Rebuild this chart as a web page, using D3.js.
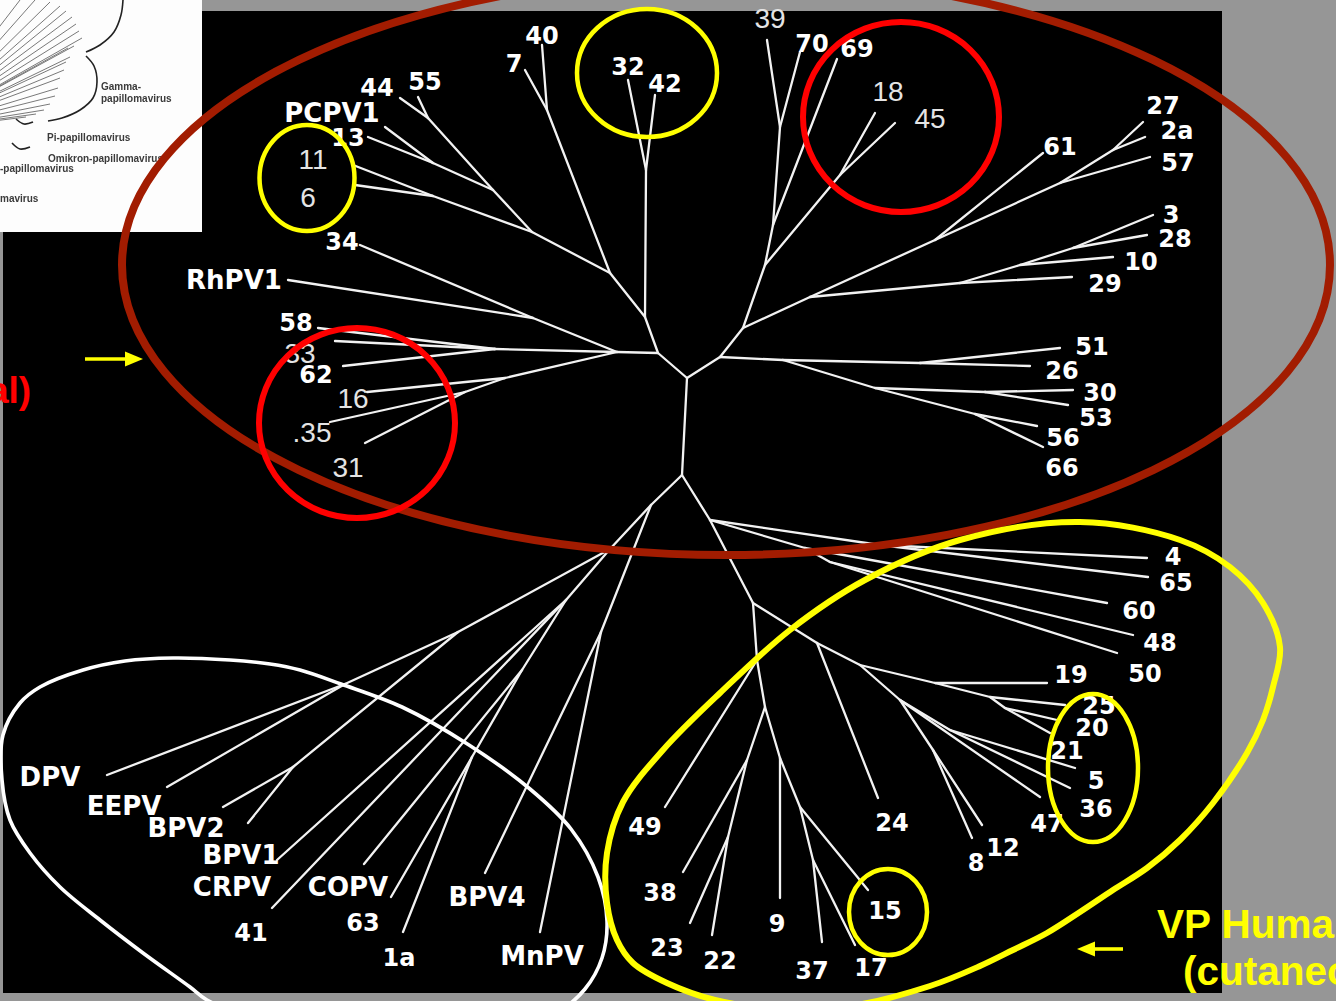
<!DOCTYPE html>
<html>
<head>
<meta charset="utf-8">
<title>Papillomavirus phylogeny</title>
<script src="https://cdn.jsdelivr.net/npm/d3@7/dist/d3.min.js"></script>
<style>
  html, body { margin: 0; padding: 0; background: #969696; overflow: hidden; }
  svg { display: block; }
</style>
</head>
<body>
<svg id="fig" width="1336" height="1001"></svg>
<script>
// Layout plane of the figure: 1 unit = 10 px (x: 0..133.6, y: 0..100.1, y grows downward).

// Slide panel and the reference-figure inset [x0, y0, x1, y1]
const panel = [0.3, 1.1, 122.2, 99.3];
const insetBox = [0, 0, 20.2, 23.2];

// Unrooted papillomavirus tree, one row per node: [node, parent, x, y]
const trunk = [
  ["u0", null, 68.7, 37.8],
  ["l0", "u0", 68.2, 47.5]
];

const upperLeft = [
  ["A", "u0", 65.8, 35.3],
  ["F", "A", 61.7, 35.2],
  ["RJ", "F", 53.3, 31.8],
  ["34", "RJ", 36.0, 24.5],
  ["RhPV1", "RJ", 28.8, 28.0],
  ["F1", "F", 49.5, 34.9],
  ["58", "F1", 31.8, 32.8],
  ["33", "F1", 33.5, 34.1],
  ["62", "F1", 34.3, 36.6],
  ["G2", "F", 50.5, 37.8],
  ["16", "G2", 36.7, 39.2],
  ["G3", "G2", 46.5, 39.2],
  ["35", "G3", 33.0, 42.2],
  ["31", "G3", 36.5, 44.3],
  ["C", "A", 64.5, 31.7],
  ["K32", "C", 64.6, 17.0],
  ["32", "K32", 62.8, 8.0],
  ["42", "K32", 65.5, 9.5],
  ["D", "C", 61.0, 27.3],
  ["K7", "D", 54.7, 11.0],
  ["7", "K7", 52.5, 7.0],
  ["40", "K7", 54.2, 4.5],
  ["E", "D", 53.2, 23.2],
  ["E1", "E", 49.3, 19.0],
  ["K44", "E1", 42.8, 11.8],
  ["44", "K44", 40.0, 9.8],
  ["55", "K44", 41.8, 9.7],
  ["K13", "E1", 43.3, 16.3],
  ["PCPV1", "K13", 38.5, 12.7],
  ["13", "K13", 36.8, 13.7],
  ["E2", "E", 43.3, 19.6],
  ["11", "E2", 35.3, 16.5],
  ["6", "E2", 35.5, 18.5]
];

const upperRight = [
  ["B", "u0", 72.0, 35.7],
  ["B2", "B", 74.3, 32.8],
  ["V1", "B2", 76.5, 26.5],
  ["V2", "V1", 77.3, 22.5],
  ["V3", "V2", 78.0, 12.7],
  ["39", "V3", 76.7, 4.0],
  ["70", "V3", 80.0, 5.2],
  ["69", "V2", 83.7, 5.9],
  ["V4", "V1", 84.0, 17.5],
  ["18", "V4", 87.5, 11.3],
  ["45", "V4", 89.5, 12.3],
  ["H", "B2", 81.0, 29.7],
  ["I", "H", 93.5, 24.0],
  ["61", "I", 104.3, 15.3],
  ["I2", "I", 106.0, 18.3],
  ["57", "I2", 115.0, 15.7],
  ["I3", "I2", 111.3, 15.0],
  ["27", "I3", 114.3, 12.2],
  ["2a", "I3", 114.5, 13.7],
  ["J", "H", 96.0, 28.3],
  ["29", "J", 107.2, 27.7],
  ["J2", "J", 102.0, 26.5],
  ["10", "J2", 111.3, 25.7],
  ["J3", "J2", 107.3, 24.8],
  ["3", "J3", 115.3, 21.5],
  ["28", "J3", 114.7, 23.5]
];

const midRight = [
  ["M", "B", 78.3, 36.0],
  ["N", "M", 92.0, 36.3],
  ["51", "N", 106.0, 34.8],
  ["26", "N", 103.0, 36.6],
  ["O", "M", 87.5, 38.8],
  ["O1", "O", 98.5, 39.2],
  ["30", "O1", 107.3, 39.0],
  ["53", "O1", 106.8, 40.5],
  ["O2", "O", 97.5, 41.4],
  ["56", "O2", 103.7, 42.6],
  ["66", "O2", 104.3, 44.7]
];

const lowerLeft = [
  ["LR1", "l0", 65.1, 50.5],
  ["LA", "LR1", 61.0, 54.9],
  ["LB", "LA", 45.8, 63.2],
  ["LB1", "LB", 34.5, 68.4],
  ["DPV", "LB1", 10.7, 77.5],
  ["EEPV", "LB1", 16.7, 78.7],
  ["LB2", "LB", 29.3, 76.7],
  ["BPV2", "LB2", 22.3, 80.7],
  ["BPV1", "LB2", 24.8, 82.3],
  ["LC", "LA", 56.6, 60.0],
  ["CRPV", "LC", 27.7, 86.0],
  ["41", "LC", 27.2, 90.8],
  ["LD", "LC", 52.2, 67.0],
  ["COPV", "LD", 36.4, 86.4],
  ["LD1", "LD", 47.2, 75.7],
  ["63", "LD1", 39.1, 89.7],
  ["1a", "LD1", 40.3, 93.2],
  ["LE", "LR1", 60.1, 63.2],
  ["BPV4", "LE", 48.5, 87.3],
  ["MnPV", "LE", 54.0, 93.2]
];

const lowerRight = [
  ["Q0", "l0", 71.0, 52.0],
  ["X1", "Q0", 88.0, 54.5],
  ["4", "X1", 114.7, 55.8],
  ["65", "X1", 114.8, 57.7],
  ["X2", "Q0", 80.5, 54.8],
  ["60", "X2", 110.7, 60.3],
  ["X3", "X2", 83.0, 56.2],
  ["48", "X3", 113.3, 63.5],
  ["50", "X3", 111.7, 65.3],
  ["P", "Q0", 75.3, 60.3],
  ["Qn", "P", 81.7, 64.3],
  ["24", "Qn", 87.8, 79.8],
  ["S", "Qn", 86.0, 66.5],
  ["S1", "S", 93.5, 68.3],
  ["19", "S1", 104.7, 68.3],
  ["S1a", "S1", 99.0, 69.7],
  ["25", "S1a", 106.5, 70.5],
  ["S1b", "S1a", 100.5, 70.8],
  ["20", "S1b", 105.7, 72.0],
  ["21", "S1b", 105.0, 73.3],
  ["S2", "S", 90.0, 70.0],
  ["S3", "S2", 95.0, 73.0],
  ["5", "S3", 107.5, 76.8],
  ["36", "S3", 107.0, 78.8],
  ["47", "S2", 104.0, 79.7],
  ["S4", "S2", 93.3, 75.0],
  ["8", "S4", 97.2, 83.8],
  ["12", "S4", 98.2, 82.5],
  ["P2", "P", 75.7, 66.0],
  ["49", "P2", 66.5, 80.7],
  ["R", "P2", 76.5, 70.7],
  ["Vn", "R", 74.7, 76.0],
  ["38", "Vn", 68.3, 87.2],
  ["W", "Vn", 72.8, 83.7],
  ["23", "W", 69.0, 92.3],
  ["22", "W", 71.2, 93.5],
  ["T9", "R", 78.0, 75.8],
  ["9", "T9", 78.0, 89.8],
  ["T", "T9", 80.0, 80.7],
  ["15", "T", 86.8, 89.0],
  ["U", "T", 81.3, 86.0],
  ["37", "U", 82.2, 94.2],
  ["17", "U", 85.5, 94.5]
];

// Tip names as printed on the tree: [text, centre x, centre y]
const tipLabels = [
  ["44", 37.7, 8.7], ["55", 42.5, 8.1], ["PCPV1", 33.2, 11.3], ["13", 34.8, 13.7],
  ["34", 34.2, 24.1], ["RhPV1", 23.4, 28.0], ["58", 29.6, 32.2], ["62", 31.6, 37.4],
  ["40", 54.2, 3.5], ["7", 51.4, 6.3], ["32", 62.8, 6.6], ["42", 66.5, 8.3],
  ["70", 81.2, 4.3], ["69", 85.7, 4.8],
  ["27", 116.3, 10.5], ["2a", 117.7, 13.0], ["57", 117.8, 16.2], ["61", 106.0, 14.6],
  ["3", 117.1, 21.4], ["28", 117.5, 23.8], ["10", 114.1, 26.1], ["29", 110.5, 28.3],
  ["51", 109.2, 34.6], ["26", 106.2, 37.0], ["30", 110.0, 39.2], ["53", 109.6, 41.7],
  ["56", 106.3, 43.7], ["66", 106.2, 46.7],
  ["4", 117.3, 55.6], ["65", 117.6, 58.2], ["60", 113.9, 61.0], ["48", 116.0, 64.2],
  ["50", 114.5, 67.3], ["19", 107.1, 67.4], ["25", 109.9, 70.5], ["20", 109.2, 72.7],
  ["21", 106.7, 75.0], ["5", 109.6, 78.0], ["36", 109.6, 80.8], ["47", 104.7, 82.3],
  ["12", 100.3, 84.7], ["8", 97.6, 86.2], ["24", 89.2, 82.2],
  ["49", 64.5, 82.6], ["38", 66.0, 89.2], ["23", 66.7, 94.7], ["22", 72.0, 96.0],
  ["9", 77.7, 92.3], ["37", 81.2, 97.0], ["17", 87.1, 96.7], ["15", 88.5, 91.0],
  ["DPV", 5.0, 77.7], ["EEPV", 12.4, 80.6], ["BPV2", 18.6, 82.8], ["BPV1", 24.1, 85.5],
  ["CRPV", 23.2, 88.7], ["41", 25.1, 93.2], ["COPV", 34.8, 88.7], ["63", 36.3, 92.2],
  ["1a", 39.9, 95.7], ["BPV4", 48.7, 89.7], ["MnPV", 54.2, 95.6]
];

// Types re-lettered by hand over the tree
const handLabels = [
  ["39", 77.0, 1.8], ["18", 88.8, 9.1], ["45", 93.0, 11.8],
  ["11", 31.3, 15.9], ["6", 30.8, 19.7], ["33", 30.0, 35.3],
  ["16", 35.3, 39.8], [".35", 31.2, 43.2], ["31", 34.8, 46.7]
];

// Group outlines: ellipse [cx, cy, rx, ry]
const mucosalRing = [72.6, 26.5, 60.4, 29.0];
const highRiskRings = [[90.1, 11.7, 9.8, 9.5], [35.7, 42.3, 9.8, 9.5]];
const lowRiskRings = [[64.7, 7.3, 7.0, 6.4], [30.7, 17.8, 4.75, 5.3], [109.3, 76.8, 4.5, 7.4], [88.8, 91.2, 3.9, 4.3]];

// Freehand outlines through [x, y] points
const cutaneousOutline = [
  [108.0, 52.2], [118.0, 54.0], [123.0, 56.7], [126.3, 60.3], [128.0, 64.7], [127.3, 68.7],
  [126.3, 72.0], [124.7, 75.3], [121.3, 80.3], [118.0, 84.0], [114.7, 86.8], [111.3, 89.0],
  [108.0, 91.2], [104.7, 93.3], [101.3, 95.0], [98.0, 96.6], [93.0, 98.6], [85.0, 100.6],
  [77.0, 100.8], [71.5, 100.0], [66.7, 98.3], [63.3, 96.3], [61.7, 94.0], [60.7, 90.3],
  [60.7, 85.3], [62.3, 80.2], [66.3, 75.0], [72.0, 69.3], [79.0, 63.0], [86.5, 58.0],
  [96.0, 54.0]
];
const animalOutline = [
  [17.3, 65.8], [23.0, 66.0], [27.0, 66.4], [30.0, 67.0], [34.1, 68.4], [40.2, 70.7],
  [46.9, 74.5], [53.0, 78.9], [57.1, 82.9], [59.8, 87.7], [60.7, 92.1], [60.2, 95.8],
  [58.5, 98.9], [56.0, 101.0], [48.0, 103.0], [35.0, 103.5], [26.0, 102.0], [20.7, 100.0],
  [19.0, 98.7], [14.3, 95.3], [10.0, 92.0], [6.0, 88.7], [3.0, 85.3], [1.0, 82.0],
  [0.2, 78.0], [0.3, 73.5], [2.0, 70.3], [4.0, 68.7], [8.3, 67.0], [12.5, 66.1]
];

// Arrows [tail x, tail y, tip x, tip y]
const arrows = [[8.5, 35.9, 14.3, 35.9], [112.3, 94.9, 107.7, 94.9]];

// Captions [text, left x, baseline y]
const cutaneousCaption = [["VP Human", 115.7, 93.8], ["(cutaneo", 118.3, 98.5]];
const mucosalCaption = [["al)", -1.2, 40.3]];

// Inset: fragment of the genus-level reference tree
const insetFanOrigin = [-8.0, 13.0];
const insetFanTips = [
  [2.0, 0.0], [3.5, 0.0], [5.0, 0.2], [6.0, 0.6], [6.6, 1.1], [7.2, 1.7], [7.6, 2.4],
  [7.9, 3.1], [8.2, 3.8], [7.4, 4.6], [6.8, 4.8], [7.0, 5.7], [6.6, 6.2], [6.4, 7.0],
  [6.0, 7.8], [5.8, 8.8], [5.5, 9.6], [5.0, 10.4], [4.4, 11.0], [3.6, 11.4], [2.6, 11.7]
];
const insetBrackets = [
  [[12.3, 0.0], [12.1, 1.5], [11.4, 3.2], [10.0, 4.5], [8.6, 5.2]],
  [[8.6, 5.6], [9.4, 6.6], [9.7, 8.2], [9.3, 9.8], [8.0, 11.0], [6.2, 11.8], [4.8, 12.1]],
  [[1.6, 11.9], [2.4, 12.4], [3.3, 12.2]],
  [[1.2, 14.3], [2.0, 14.9], [3.0, 14.7]]
];
const insetText = [
  ["Gamma-", 10.1, 9.0], ["papillomavirus", 10.1, 10.2], ["Pi-papillomavirus", 4.7, 14.1],
  ["Omikron-papillomavirus", 4.8, 16.2], ["-papillomavirus", 0.0, 17.2], ["mavirus", 0.0, 20.2]
];

// ---------------------------------------------------------------------------
const svg = d3.select("#fig");
const W = +svg.attr("width"), H = +svg.attr("height");
const x = d3.scaleLinear().domain([0, 133.6]).range([0, W]);
const y = d3.scaleLinear().domain([0, 100.1]).range([0, H]);
const lenX = v => x(v) - x(0);
const lenY = v => y(v) - y(0);

const defs = svg.append("defs");
defs.append("filter").attr("id", "soft")
  .append("feGaussianBlur").attr("stdDeviation", 0.55);

// Page and slide panel
svg.append("rect").attr("width", W).attr("height", H).attr("fill", "#969696");
svg.append("rect")
  .attr("x", x(panel[0])).attr("y", y(panel[1]))
  .attr("width", lenX(panel[2] - panel[0])).attr("height", lenY(panel[3] - panel[1]))
  .attr("fill", "#000");

// Inset
const inset = svg.append("g");
inset.append("rect")
  .attr("x", x(insetBox[0])).attr("y", y(insetBox[1]))
  .attr("width", lenX(insetBox[2] - insetBox[0])).attr("height", lenY(insetBox[3] - insetBox[1]))
  .attr("fill", "#fdfdfd");
inset.append("clipPath").attr("id", "insetClip").append("rect")
  .attr("width", lenX(insetBox[2])).attr("height", lenY(insetBox[3]));
const insetInk = inset.append("g").attr("filter", "url(#soft)").attr("clip-path", "url(#insetClip)");
insetInk.selectAll("line.fan").data(insetFanTips).join("line")
  .attr("class", "fan")
  .attr("x1", x(insetFanOrigin[0])).attr("y1", y(insetFanOrigin[1]))
  .attr("x2", d => x(d[0])).attr("y2", d => y(d[1]))
  .attr("stroke", "#6a6a6a").attr("stroke-width", 0.9);
const bracketLine = d3.line().x(d => x(d[0])).y(d => y(d[1])).curve(d3.curveCatmullRom);
insetInk.selectAll("path.bracket").data(insetBrackets).join("path")
  .attr("class", "bracket").attr("d", bracketLine)
  .attr("fill", "none").attr("stroke", "#222").attr("stroke-width", 1.6);
insetInk.selectAll("text").data(insetText).join("text")
  .attr("x", d => x(d[1])).attr("y", d => y(d[2]))
  .attr("font-family", "Liberation Sans, Arial, sans-serif")
  .attr("font-size", 10).attr("font-weight", "bold").attr("fill", "#3a3a3a")
  .text(d => d[0]);

// Tree
const rows = [...trunk, ...upperLeft, ...upperRight, ...midRight, ...lowerLeft, ...lowerRight];
const root = d3.stratify().id(d => d[0]).parentId(d => d[1])(rows);
svg.append("g")
  .attr("stroke", "#f2f2f2").attr("stroke-width", 2.3).attr("stroke-linecap", "round")
  .selectAll("line").data(root.links()).join("line")
  .attr("x1", d => x(d.source.data[2])).attr("y1", d => y(d.source.data[3]))
  .attr("x2", d => x(d.target.data[2])).attr("y2", d => y(d.target.data[3]));

// Tip labels
const boldSize = t => /^[0-9]/.test(t) ? 24 : 26;
svg.append("g").selectAll("text").data(tipLabels).join("text")
  .attr("x", d => x(d[1]))
  .attr("y", d => y(d[2]) + boldSize(d[0]) * 0.365)
  .attr("text-anchor", "middle")
  .attr("font-family", "DejaVu Sans, sans-serif").attr("font-weight", "bold")
  .attr("font-size", d => boldSize(d[0]))
  .attr("fill", "#ffffff")
  .text(d => d[0]);

svg.append("g").selectAll("text").data(handLabels).join("text")
  .attr("x", d => x(d[1]))
  .attr("y", d => y(d[2]) + 10)
  .attr("text-anchor", "middle")
  .attr("font-family", "Liberation Sans, Arial, sans-serif")
  .attr("font-size", 28)
  .attr("fill", "#e4e4e4")
  .text(d => d[0]);

// Group outlines
svg.append("ellipse")
  .attr("cx", x(mucosalRing[0])).attr("cy", y(mucosalRing[1]))
  .attr("rx", lenX(mucosalRing[2])).attr("ry", lenY(mucosalRing[3]))
  .attr("fill", "none").attr("stroke", "#a21c01").attr("stroke-width", 8);

const outline = d3.line().x(d => x(d[0])).y(d => y(d[1])).curve(d3.curveCatmullRomClosed);
svg.append("path").datum(animalOutline).attr("d", outline)
  .attr("fill", "none").attr("stroke", "#ffffff").attr("stroke-width", 3.6);
svg.append("path").datum(cutaneousOutline).attr("d", outline)
  .attr("fill", "none").attr("stroke", "#ffff00").attr("stroke-width", 6);

svg.append("g").selectAll("ellipse").data(highRiskRings).join("ellipse")
  .attr("cx", d => x(d[0])).attr("cy", d => y(d[1]))
  .attr("rx", d => lenX(d[2])).attr("ry", d => lenY(d[3]))
  .attr("fill", "none").attr("stroke", "#ff0000").attr("stroke-width", 6);

svg.append("g").selectAll("ellipse").data(lowRiskRings).join("ellipse")
  .attr("cx", d => x(d[0])).attr("cy", d => y(d[1]))
  .attr("rx", d => lenX(d[2])).attr("ry", d => lenY(d[3]))
  .attr("fill", "none").attr("stroke", "#ffff00").attr("stroke-width", 4.5);

// Arrows
const arrowG = svg.append("g").attr("fill", "#ffff00").attr("stroke", "#ffff00");
arrows.forEach(([x0, y0, x1, y1]) => {
  const dir = Math.sign(x1 - x0);
  const head = 1.8, half = 0.75;
  arrowG.append("line")
    .attr("x1", x(x0)).attr("y1", y(y0))
    .attr("x2", x(x1 - dir * head * 0.9)).attr("y2", y(y1))
    .attr("stroke-width", 3.6);
  arrowG.append("path")
    .attr("stroke", "none")
    .attr("d", d3.line()([
      [x(x1), y(y1)],
      [x(x1 - dir * head), y(y1 - half)],
      [x(x1 - dir * head), y(y1 + half)]
    ]) + "Z");
});

// Captions (running off the slide edge)
svg.append("g").selectAll("text").data(cutaneousCaption).join("text")
  .attr("x", d => x(d[1])).attr("y", d => y(d[2]))
  .attr("font-family", "Liberation Sans, Arial, sans-serif").attr("font-weight", "bold")
  .attr("font-size", 40.5).attr("fill", "#ffff00")
  .text(d => d[0]);
svg.append("g").selectAll("text").data(mucosalCaption).join("text")
  .attr("x", d => x(d[1])).attr("y", d => y(d[2]))
  .attr("font-family", "Liberation Sans, Arial, sans-serif").attr("font-weight", "bold")
  .attr("font-size", 37).attr("fill", "#ff0000")
  .text(d => d[0]);
</script>
</body>
</html>
